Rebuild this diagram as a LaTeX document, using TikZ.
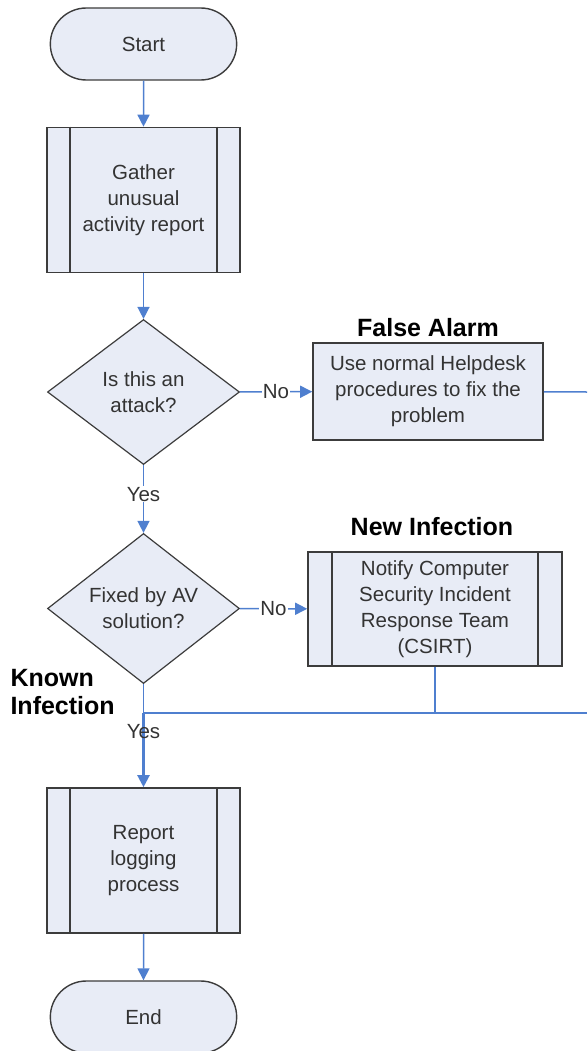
\documentclass[tikz,border=0pt]{standalone}
\usepackage{fontspec}
\setmainfont{Liberation Sans}
\usetikzlibrary{shapes.geometric,shapes.misc,arrows.meta}

\definecolor{boxfill}{HTML}{E8ECF6}
\definecolor{boxline}{HTML}{3C3C3C}
\definecolor{flowblue}{HTML}{4F7FCF}
\definecolor{txtgray}{HTML}{333333}

\tikzset{
  terminal/.style={rounded rectangle, draw=boxline, line width=1.4pt, fill=boxfill,
    minimum width=193pt, minimum height=72pt, text=txtgray},
  procbox/.style={rectangle, draw=boxline, line width=1.6pt, fill=boxfill,
    minimum width=193pt, minimum height=145pt, align=center, text=txtgray},
  plainbox/.style={rectangle, draw=boxline, line width=1.6pt, fill=boxfill,
    align=center, text=txtgray},
  decision/.style={diamond, draw=boxline, line width=1.2pt, fill=boxfill,
    minimum width=192pt, minimum height=145pt, inner sep=0pt, align=center, text=txtgray},
  flow/.style={draw=flowblue, line width=1.5pt},
  flowarrow/.style={flow, -{Triangle[width=12pt,length=12pt]}},
  branchlabel/.style={fill=white, inner sep=1pt, text=txtgray},
  headlabel/.style={font=\fontsize{25}{30}\selectfont\bfseries, text=black},
  sidebars/.style={draw=boxline, line width=2pt}
}

\begin{document}
\begin{tikzpicture}[x=1pt, y=1pt, font=\fontsize{20.5}{26}\selectfont]
  \useasboundingbox (0,0) rectangle (587,-1051);

  % main column
  \node[terminal] (start) at (143.5,-44) {Start};
  \node[procbox] (gather) at (143.5,-200) {Gather\\unusual\\activity report};
  \node[decision] (attack) at (143.5,-392) {Is this an\\attack?};
  \node[decision] (fixed) at (143.5,-608.5) {Fixed by AV\\solution?};
  \node[procbox] (report) at (143.5,-860.5) {Report\\logging\\process};
  \node[terminal] (end) at (143.5,-1017) {End};

  % side branches
  \node[plainbox, minimum width=230pt, minimum height=97pt] (helpdesk) at (428,-391.5)
    {Use normal Helpdesk\\procedures to fix the\\problem};
  \node[procbox, minimum width=254pt, minimum height=114pt] (csirt) at (435,-609)
    {Notify Computer\\Security Incident\\Response Team\\(CSIRT)};

  % inner bars of the process boxes
  \foreach \b/\d in {gather/24pt, report/24pt, csirt/25pt} {
    \draw[sidebars] ([xshift=\d]\b.north west) -- ([xshift=\d]\b.south west);
    \draw[sidebars] ([xshift=-\d]\b.north east) -- ([xshift=-\d]\b.south east);
  }

  % headings
  \node[headlabel] (falsealarm) at (428,-328) {False Alarm};
  \node[headlabel] (newinf) at (432,-527) {New Infection};
  \node[headlabel, anchor=west, align=left, font=\fontsize{25}{28}\selectfont\bfseries] (knowninf) at (7,-692) {Known\\Infection};

  % merge points
  \coordinate (merge) at (143.5,-713);
  \coordinate (mergeright) at (587,-713);
  \coordinate (helpout) at (587,-392);

  % connectors
  \draw[flowarrow] (start) -- (gather);
  \draw[flowarrow] (gather) -- (attack);
  \draw[flowarrow] (attack) -- node[branchlabel] {No} (helpdesk);
  \draw[flowarrow] (attack) -- node[branchlabel, pos=0.43] {Yes} (fixed);
  \draw[flowarrow] (fixed) -- node[branchlabel] {No} (csirt);
  \draw[flow] (helpdesk) -- (helpout);
  \draw[flow] (csirt.south) |- (merge);
  \draw[flow] (merge) -- (mergeright);
  \draw[flow] (fixed.south) -- (merge);
  \draw[flowarrow, line width=2.2pt] (merge) -- node[pos=0.25, text=txtgray] {Yes} (report);
  \draw[flowarrow] (report) -- (end);
\end{tikzpicture}
\end{document}
